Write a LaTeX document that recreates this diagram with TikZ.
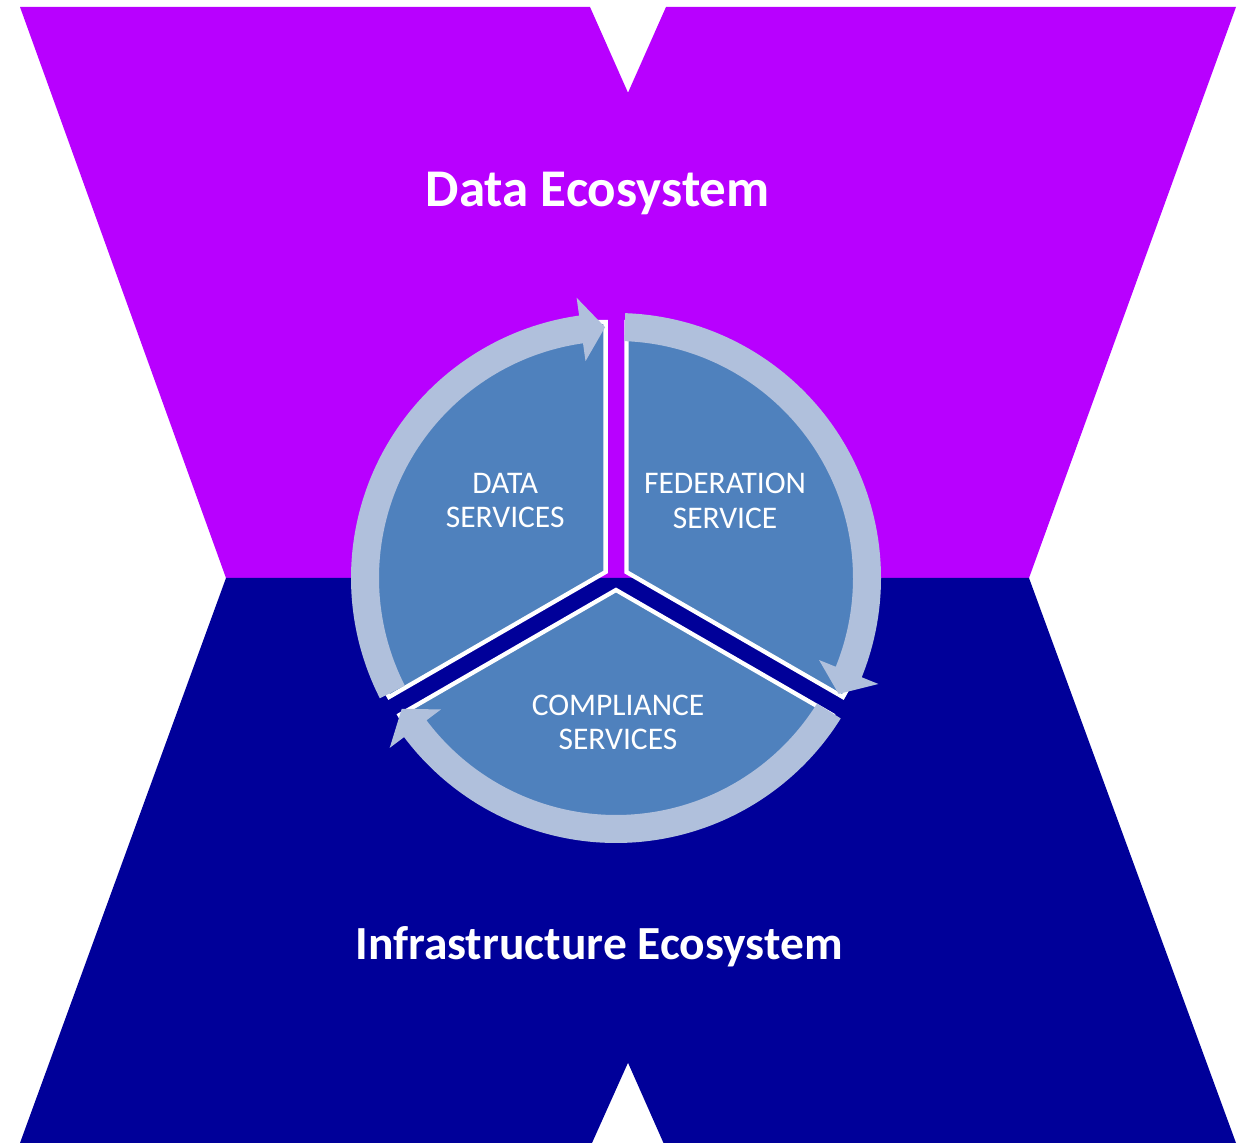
\documentclass[tikz,border=0pt]{standalone}
\usepackage{fontspec}
\setmainfont{Carlito}
\usetikzlibrary{calc}
\definecolor{topviolet}{RGB}{184,0,255}
\definecolor{infranavy}{RGB}{0,0,153}
\definecolor{wedgeblue}{RGB}{79,129,189}
\definecolor{ringblue}{RGB}{176,192,220}
\newcommand{\ringarrow}[2]{%
  \pgfmathsetmacro{\hb}{#2+5.5}%
  \fill[ringshape] ($(C)+(#1:265)$) arc[start angle=#1, end angle=\hb, radius=265]
    -- ($(C)+(\hb:283)$) -- ($(C)+(#2:251)$) -- ($(C)+(\hb:219)$)
    -- ($(C)+(\hb:237)$) arc[start angle=\hb, end angle=#1, radius=237] -- cycle;
}
\tikzset{
  wedgeshape/.style={fill=wedgeblue, draw=white, line width=4.3pt, line join=miter},
  ringshape/.style={fill=ringblue},
  titletext/.style={text=white, font=\bfseries, anchor=base, inner sep=0pt},
  segtext/.style={text=white, align=center, inner sep=0pt, font=\fontsize{31.5}{34.5}\selectfont}
}
\begin{document}
\begin{tikzpicture}[x=1pt, y=1pt]
\useasboundingbox (0,0) rectangle (1245,1143);
\fill[white] (0,0) rectangle (1245,1143);
% top band
\fill[topviolet] (20,1136) -- (590,1136) -- (628,1050.3) -- (666,1136) -- (1236,1136)
  -- (1029,565) -- (226,565) -- cycle;
% bottom band
\fill[infranavy] (226,565) -- (1029,565) -- (1236,0) -- (663.5,0) -- (628,80.3)
  -- (592,0) -- (20,0) -- cycle;
\coordinate (C) at (616,565);
% wedges
\coordinate (Wd) at (605.6,571);
\coordinate (Wf) at (626.4,571);
\coordinate (Wc) at (616,553);
\draw[wedgeshape] (Wd) -- ++(90:250) arc[start angle=90, end angle=210, radius=250] -- cycle;
\draw[wedgeshape] (Wf) -- ++(-30:250) arc[start angle=-30, end angle=90, radius=250] -- cycle;
\draw[wedgeshape] (Wc) -- ++(210:250) arc[start angle=210, end angle=330, radius=250] -- cycle;
% cycle arrows
\ringarrow{207}{92.5}
\ringarrow{88}{-27.5}
\ringarrow{-32}{-148.6}
% texts
\node[titletext, font=\bfseries\fontsize{53}{60}\selectfont] (dataeco) at (597.7,936.3) {Data Ecosystem};
\node[titletext, font=\bfseries\fontsize{47.5}{56}\selectfont] (infraeco) at (599,183.7) {Infrastructure Ecosystem};
\node[segtext] (datasrv) at (505.2,642.25) {DATA\\SERVICES};
\node[segtext] (fedsrv) at (725.1,642.25) {FEDERATION\\SERVICE};
\node[segtext] (compsrv) at (618,420.8) {COMPLIANCE\\SERVICES};
\end{tikzpicture}
\end{document}
